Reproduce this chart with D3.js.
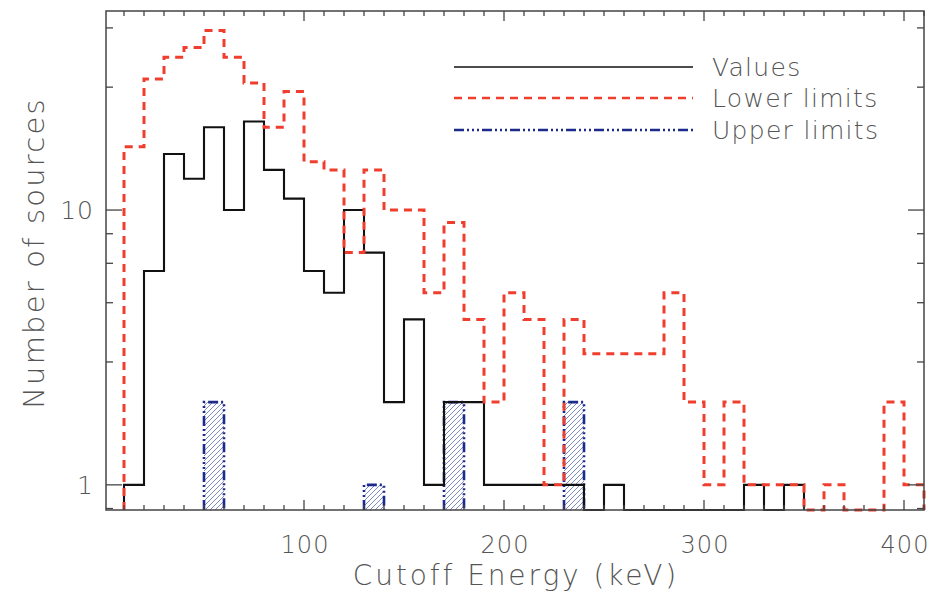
<!DOCTYPE html>
<html>
<head>
<meta charset="utf-8">
<script src="https://cdn.jsdelivr.net/npm/d3@7"></script>
<style>
  body { margin: 0; background: #fff; }
  svg { display: block; }
  text { font-family: "DejaVu Sans", sans-serif; font-weight: 200; fill: #555; }
</style>
</head>
<body>
<svg id="chart" width="931" height="595"></svg>
<script>
// Lower edges of the 10 keV energy bins (keV)
const binStart = [10, 20, 30, 40, 50, 60, 70, 80, 90, 100,
                  110, 120, 130, 140, 150, 160, 170, 180, 190, 200,
                  210, 220, 230, 240, 250, 260, 270, 280, 290, 300,
                  310, 320, 330, 340, 350, 360, 370, 380, 390, 400];
const binWidth = 10;

// Number of sources with a measured cutoff, per bin (from 10 keV)
const values = [1, 6, 16, 13, 20, 10, 21, 14, 11, 6,
                5, 10, 7, 2, 4, 1, 2, 2, 1, 1,
                1, 1, 1, 0, 1, 0, 0, 0, 0, 0,
                0, 1, 0, 1];

// Number of sources with only a lower limit, per bin (from 10 keV)
const lowerLimits = [17, 30, 36, 39, 45, 36, 29, 20, 27, 15,
                     14, 7, 14, 10, 10, 5, 9, 4, 2, 5,
                     4, 1, 4, 3, 3, 3, 3, 5, 2, 1,
                     2, 1, 1, 1, 0, 1, 0, 0, 2, 1];

// Bins holding sources with only an upper limit
const upperStart = [50, 130, 170, 230];
const upperLimits = [2, 1, 2, 2];

const xMajorTicks = [100, 200, 300, 400];
const yMajorTicks = [1, 10];
const yMinorTicks = [0.82, 2.8, 4.6, 6.4, 8.2, 28, 46];
const legendLabels = ["Values", "Lower limits", "Upper limits"];

const svg = d3.select("#chart");
const plot = { left: 106, right: 924, top: 11, bottom: 510 };

const x = d3.scaleLinear().domain([1, 410]).range([plot.left, plot.right]);
const y = d3.scaleLog().domain([0.81, 53]).range([plot.bottom, plot.top]);
const base = plot.bottom;

const frameColor = "#444";
const black = "#111";
const red = "#f03e2e";
const blue = "#1c2a8c";
const blueDash = "10,3,2,3,2,3,2,3";

// hatch fill for the upper-limit bars
const defs = svg.append("defs");
defs.append("pattern")
  .attr("id", "hatch")
  .attr("patternUnits", "userSpaceOnUse")
  .attr("width", 5).attr("height", 5)
  .append("path")
  .attr("d", "M0,5 L5,0 M-1.25,1.25 L1.25,-1.25 M3.75,6.25 L6.25,3.75")
  .attr("stroke", "#6d7db5").attr("stroke-width", 0.9);

// step outline of a histogram, dropping to the axis for empty bins
function stepPoints(counts) {
  const pts = [[x(binStart[0]), base]];
  counts.forEach((c, i) => {
    const yy = c > 0 ? y(c) : base;
    pts.push([x(binStart[i]), yy], [x(binStart[i] + binWidth), yy]);
  });
  pts.push([x(binStart[counts.length - 1] + binWidth), base]);
  return pts;
}
const line = d3.line();

// upper-limit bars
const up = svg.append("g");
upperStart.forEach((s, i) => {
  const x0 = x(s), x1 = x(s + binWidth), yt = y(upperLimits[i]);
  up.append("rect")
    .attr("x", x0).attr("y", yt)
    .attr("width", x1 - x0).attr("height", base - yt)
    .attr("fill", "url(#hatch)");
  up.append("path")
    .attr("d", line([[x0, base], [x0, yt], [x1, yt], [x1, base]]))
    .attr("fill", "none").attr("stroke", blue)
    .attr("stroke-width", 2.6).attr("stroke-dasharray", blueDash);
});

// measured values
svg.append("path")
  .attr("d", line(stepPoints(values)))
  .attr("fill", "none").attr("stroke", black).attr("stroke-width", 2.1);

// lower limits
svg.append("path")
  .attr("d", line(stepPoints(lowerLimits)))
  .attr("fill", "none").attr("stroke", red)
  .attr("stroke-width", 3).attr("stroke-dasharray", "8,6");

// frame
svg.append("rect")
  .attr("x", plot.left).attr("y", plot.top)
  .attr("width", plot.right - plot.left).attr("height", plot.bottom - plot.top)
  .attr("fill", "none").attr("stroke", frameColor).attr("stroke-width", 1.5);

// x ticks on bottom and top
const xMinor = binStart.concat([410]).filter(v => !xMajorTicks.includes(v));
const ticks = svg.append("g").attr("stroke", frameColor).attr("stroke-width", 1.3);
xMinor.forEach(v => {
  ticks.append("line").attr("x1", x(v)).attr("x2", x(v)).attr("y1", base).attr("y2", base - 5);
  ticks.append("line").attr("x1", x(v)).attr("x2", x(v)).attr("y1", plot.top).attr("y2", plot.top + 5);
});
xMajorTicks.forEach(v => {
  ticks.append("line").attr("x1", x(v)).attr("x2", x(v)).attr("y1", base).attr("y2", base - 10);
  ticks.append("line").attr("x1", x(v)).attr("x2", x(v)).attr("y1", plot.top).attr("y2", plot.top + 10);
});
// y ticks on left and right
yMinorTicks.forEach(v => {
  ticks.append("line").attr("x1", plot.left).attr("x2", plot.left + 7).attr("y1", y(v)).attr("y2", y(v));
  ticks.append("line").attr("x1", plot.right).attr("x2", plot.right - 7).attr("y1", y(v)).attr("y2", y(v));
});
yMajorTicks.forEach(v => {
  ticks.append("line").attr("x1", plot.left).attr("x2", plot.left + 16).attr("y1", y(v)).attr("y2", y(v));
  ticks.append("line").attr("x1", plot.right).attr("x2", plot.right - 16).attr("y1", y(v)).attr("y2", y(v));
});

// tick labels
svg.append("g").selectAll("text").data(xMajorTicks).join("text")
  .attr("x", d => x(d) + 1).attr("y", 553)
  .attr("text-anchor", "middle").attr("font-size", 24)
  .attr("letter-spacing", 1)
  .text(d => d);
svg.append("g").selectAll("text").data(yMajorTicks).join("text")
  .attr("x", 94).attr("y", d => y(d) + 9)
  .attr("text-anchor", "end").attr("font-size", 25)
  .attr("letter-spacing", 1)
  .text(d => d);

// axis titles
svg.append("text")
  .attr("x", 516).attr("y", 585)
  .attr("text-anchor", "middle").attr("font-size", 28)
  .attr("letter-spacing", 2.9)
  .text("Cutoff Energy (keV)");
svg.append("text")
  .attr("transform", "translate(44,253) rotate(-90)")
  .attr("text-anchor", "middle").attr("font-size", 29)
  .attr("letter-spacing", 2.2)
  .text("Number of sources");

// legend
const legendY = [67, 98, 130];
const legendStyles = [
  { stroke: black, width: 1.6, dash: null },
  { stroke: red, width: 2.6, dash: "8,6" },
  { stroke: blue, width: 2.4, dash: blueDash }
];
legendLabels.forEach((lab, i) => {
  svg.append("line")
    .attr("x1", 454).attr("x2", 693)
    .attr("y1", legendY[i]).attr("y2", legendY[i])
    .attr("stroke", legendStyles[i].stroke)
    .attr("stroke-width", legendStyles[i].width)
    .attr("stroke-dasharray", legendStyles[i].dash);
  svg.append("text")
    .attr("x", 712).attr("y", legendY[i] + 9)
    .attr("font-size", 25)
    .attr("letter-spacing", 1.3)
    .text(lab);
});
</script>
</body>
</html>
